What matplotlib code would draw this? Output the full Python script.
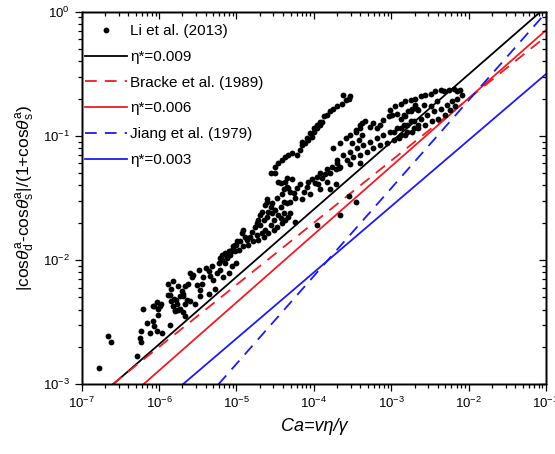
import numpy as np
import matplotlib
matplotlib.use("agg")
import matplotlib.pyplot as plt
from matplotlib.ticker import LogLocator, NullFormatter

plt.rcParams["font.family"] = "Liberation Sans"
plt.rcParams["mathtext.fontset"] = "custom"
plt.rcParams["mathtext.rm"] = "Liberation Sans"
plt.rcParams["mathtext.it"] = "Liberation Sans:italic"
plt.rcParams["mathtext.bf"] = "Liberation Sans:bold"

# Li et al. (2013): measured points, kept as decades (log10 Ca, log10 ratio)
LI_LOG_CA = [
	-6.77, -6.66, -6.62, -6.29, -6.21, -6.08, -5.99, -6.01, -6.15, -6.08,
	-6.06, -6.24, -6.12, -6.03, -6.25, -6.23, -5.96, -5.86, -5.89, -5.84,
	-5.82, -5.80, -5.75, -5.73, -5.69, -5.78, -5.67, -5.67, -6.07, -6.01,
	-5.97, -6.03, -5.88, -5.82, -5.84, -5.86, -5.81, -5.77, -5.73, -5.79,
	-5.69, -5.75, -5.71, -5.69, -5.64, -5.66, -5.62, -5.58, -5.60, -5.56,
	-5.51, -5.47, -5.45, -5.43, -5.49, -5.40, -5.36, -5.32, -5.34, -5.30,
	-5.25, -5.21, -5.23, -5.19, -5.15, -5.12, -5.08, -5.04, -5.02, -4.99,
	-5.06, -5.00, -5.10, -5.17, -5.60, -5.53, -5.47, -5.36, -5.28, -4.50,
	-4.46, -4.43, -4.35, -4.33, -4.61, -4.63, -4.56, -4.59, -4.67, -4.69,
	-4.72, -4.74, -4.76, -4.69, -4.65, -4.61, -4.54, -4.50, -4.43, -4.39,
	-4.35, -4.46, -4.52, -4.56, -4.63, -4.67, -4.74, -4.80, -4.82, -4.87,
	-4.91, -4.93, -4.89, -4.95, -5.00, -5.04, -5.06, -5.10, -5.15, -5.19,
	-5.21, -5.12, -5.08, -5.02, -4.97, -4.91, -4.85, -4.78, -4.72, -4.65,
	-4.59, -4.52, -4.48, -4.41, -4.37, -4.33, -4.39, -4.43, -4.56, -4.50,
	-4.46, -4.41, -4.37, -4.33, -4.28, -4.22, -4.18, -4.15, -4.11, -4.07,
	-4.02, -4.00, -3.96, -3.92, -3.90, -4.61, -4.54, -4.48, -4.41, -4.39,
	-4.35, -4.31, -4.26, -4.22, -4.18, -4.13, -4.09, -4.07, -4.02, -3.98,
	-3.96, -3.92, -3.90, -3.85, -3.83, -3.79, -3.77, -3.72, -3.70, -3.68,
	-4.24, -4.15, -4.05, -4.31, -3.94, -3.83, -4.37, -4.28, -3.92, -3.79,
	-3.71, -4.15, -4.09, -4.05, -4.00, -3.96, -3.92, -3.87, -3.83, -3.79,
	-3.75, -3.70, -3.64, -3.59, -3.53, -3.46, -3.40, -3.38, -3.42, -3.51,
	-3.62, -3.55, -3.75, -3.66, -3.59, -3.53, -3.46, -3.40, -3.38, -3.34,
	-3.27, -3.23, -3.18, -3.14, -3.10, -3.03, -2.99, -2.93, -2.88, -2.82,
	-2.78, -2.73, -2.69, -2.65, -2.75, -2.84, -2.93, -3.01, -3.10, -3.18,
	-3.27, -3.36, -3.44, -3.53, -3.62, -3.70, -3.57, -3.49, -3.40, -3.31,
	-3.23, -3.14, -3.05, -2.97, -2.88, -2.80, -2.71, -2.65, -3.66, -3.53,
	-3.40, -3.01, -2.95, -2.88, -2.82, -2.75, -2.69, -2.62, -2.56, -2.49,
	-2.43, -2.36, -2.32, -2.26, -2.19, -2.15, -2.11, -2.08, -2.15, -2.21,
	-2.28, -2.36, -2.45, -2.54, -2.62, -2.71, -2.80, -2.88, -2.97, -2.90,
	-2.82, -2.73, -2.65, -2.56, -2.47, -2.39, -2.30, -2.24, -2.17, -2.84,
	-2.75, -2.67, -2.58, -2.41, -2.49, -3.55, -3.46, -3.66, -3.96, -4.31,
	-4.24,
]
LI_LOG_RATIO = [
	-2.87, -2.61, -2.66, -2.77, -2.39, -2.37, -2.37, -2.44, -2.51, -2.49,
	-2.53, -2.57, -2.59, -2.57, -2.63, -2.66, -2.59, -2.52, -2.28, -2.33,
	-2.37, -2.41, -2.40, -2.29, -2.27, -2.32, -2.35, -2.45, -2.37, -2.39,
	-2.35, -2.34, -2.19, -2.17, -2.23, -2.28, -2.31, -2.35, -2.39, -2.40,
	-2.42, -2.21, -2.25, -2.29, -2.32, -2.21, -2.19, -2.14, -2.10, -2.12,
	-2.20, -2.24, -2.19, -2.14, -2.08, -2.06, -2.09, -2.05, -2.13, -2.16,
	-2.10, -2.08, -2.02, -2.00, -2.02, -1.97, -1.94, -1.92, -1.88, -1.85,
	-2.05, -2.02, -2.10, -2.14, -2.33, -2.35, -2.29, -2.27, -2.23, -1.30,
	-1.37, -1.38, -1.34, -1.42, -1.51, -1.56, -1.57, -1.61, -1.61, -1.64,
	-1.68, -1.70, -1.73, -1.72, -1.68, -1.65, -1.62, -1.60, -1.57, -1.53,
	-1.54, -1.64, -1.68, -1.72, -1.76, -1.78, -1.80, -1.77, -1.81, -1.84,
	-1.76, -1.78, -1.81, -1.85, -1.88, -1.89, -1.92, -1.93, -1.94, -1.96,
	-1.98, -1.98, -1.96, -1.93, -1.92, -1.89, -1.88, -1.85, -1.84, -1.81,
	-1.78, -1.76, -1.73, -1.70, -1.68, -1.65, -1.62, -1.66, -1.30, -1.25,
	-1.22, -1.19, -1.17, -1.15, -1.14, -1.15, -1.11, -1.07, -1.06, -1.03,
	-1.01, -0.97, -0.94, -0.91, -0.89, -1.53, -1.54, -1.50, -1.47, -1.43,
	-1.41, -1.45, -1.46, -1.42, -1.39, -1.45, -1.41, -1.37, -1.35, -1.38,
	-1.33, -1.30, -1.34, -1.31, -1.27, -1.30, -1.25, -1.27, -1.22, -1.26,
	-1.50, -1.51, -1.47, -1.53, -1.39, -1.37, -1.37, -1.35, -1.43, -1.43,
	-1.39, -1.05, -1.02, -0.98, -0.94, -0.91, -0.89, -0.84, -0.83, -0.80,
	-0.78, -0.76, -0.74, -0.71, -0.68, -0.95, -0.91, -0.99, -1.03, -1.06,
	-0.67, -0.70, -1.10, -1.06, -1.02, -0.99, -0.97, -0.94, -0.90, -0.88,
	-0.93, -0.90, -0.94, -0.91, -0.87, -0.84, -0.83, -0.82, -0.86, -0.84,
	-0.80, -0.78, -0.75, -0.79, -0.88, -0.91, -0.94, -0.97, -0.99, -1.02,
	-1.05, -1.07, -1.10, -1.13, -1.15, -1.19, -1.19, -1.17, -1.15, -1.13,
	-1.10, -1.07, -1.06, -1.03, -0.99, -0.97, -0.94, -0.91, -1.25, -1.23,
	-1.22, -0.79, -0.76, -0.74, -0.72, -0.71, -0.70, -0.68, -0.67, -0.66,
	-0.64, -0.63, -0.64, -0.63, -0.62, -0.64, -0.63, -0.67, -0.70, -0.72,
	-0.75, -0.78, -0.80, -0.83, -0.86, -0.88, -0.91, -0.94, -0.97, -1.02,
	-0.99, -0.97, -0.94, -0.91, -0.88, -0.86, -0.83, -0.79, -0.76, -0.83,
	-0.80, -0.78, -0.75, -0.72, -0.76, -1.48, -1.53, -1.64, -1.72, -1.62,
	-1.69,
]

# straight lines on log-log axes, each given by its two end points
BRACKE_CA = [2.5e-7, 1e-1]
BRACKE_RATIO = [1e-3, 0.632]
JIANG_CA = [5.85e-6, 1e-1]
JIANG_RATIO = [1e-3, 0.985]
ETA_009_CA = [2.55e-7, 8.5e-2]
ETA_009_RATIO = [1e-3, 1.0]
ETA_006_CA = [6.27e-7, 1e-1]
ETA_006_RATIO = [1e-3, 0.71]
ETA_003_CA = [2.03e-6, 1e-1]
ETA_003_RATIO = [1e-3, 0.315]

RED = "#ee1d23"
BLUE = "#1c1ced"
DASH = (0, (6.5, 4.5))

fig = plt.figure(figsize=(5.55, 4.54), dpi=100)
ax = fig.add_axes([0.1472, 0.1535, 0.8366, 0.8207])

ax.plot(10 ** np.array(LI_LOG_CA), 10 ** np.array(LI_LOG_RATIO), "o", color="black",
	ms=4.2, mec="none", label="Li et al. (2013)", zorder=3)
ax.plot(ETA_009_CA, ETA_009_RATIO, color="black", lw=1.3, label="\u03b7*=0.009")
ax.plot(BRACKE_CA, BRACKE_RATIO, color=RED, lw=1.3, ls=DASH, label="Bracke et al. (1989)")
ax.plot(ETA_006_CA, ETA_006_RATIO, color=RED, lw=1.3, label="\u03b7*=0.006")
ax.plot(JIANG_CA, JIANG_RATIO, color=BLUE, lw=1.3, ls=DASH, label="Jiang et al. (1979)")
ax.plot(ETA_003_CA, ETA_003_RATIO, color=BLUE, lw=1.3, label="\u03b7*=0.003")

ax.set_xscale("log")
ax.set_yscale("log")
ax.set_xlim(1e-7, 1e-1)
ax.set_ylim(1e-3, 1e0)

for a in (ax.xaxis, ax.yaxis):
	a.set_major_locator(LogLocator(base=10, numticks=12))
	a.set_minor_locator(LogLocator(base=10, subs=np.arange(2, 10), numticks=12))
	a.set_minor_formatter(NullFormatter())

ax.tick_params(which="both", direction="out", top=False, right=False, labelsize=9.5, width=0.9)
ax.tick_params(which="major", length=5)
ax.tick_params(which="minor", length=3)
for s in ax.spines.values():
	s.set_linewidth(1.0)

# mirrored ticks on top and right, pointing inwards
ax_top = ax.twiny()
ax_top.set_xscale("log")
ax_top.set_xlim(ax.get_xlim())
ax_right = ax.twinx()
ax_right.set_yscale("log")
ax_right.set_ylim(ax.get_ylim())
ax_top.xaxis.set_minor_locator(LogLocator(base=10, subs=np.arange(2, 10), numticks=12))
ax_right.yaxis.set_minor_locator(LogLocator(base=10, subs=np.arange(2, 10), numticks=12))
ax_top.tick_params(axis="x", which="both", direction="in", labeltop=False, width=0.9)
ax_right.tick_params(axis="y", which="both", direction="in", labelright=False, width=0.9)
for t in (ax_top, ax_right):
	t.tick_params(which="major", length=5)
	t.tick_params(which="minor", length=3)
	for s in t.spines.values():
		s.set_linewidth(1.0)

ax.set_xlabel("Ca=v\u03b7/\u03b3", fontsize=13, style="italic", labelpad=5)
ax.set_ylabel(r"|cos$\theta^{\mathrm{a}}_{\mathrm{d}}$-cos$\theta^{\mathrm{a}}_{\mathrm{s}}$|/(1+cos$\theta^{\mathrm{a}}_{\mathrm{s}}$)",
	fontsize=12.5, labelpad=4)

ax.legend(loc="upper left", bbox_to_anchor=(0.0, 0.975), frameon=False, fontsize=11,
	handlelength=2.75, handletextpad=0.2, labelspacing=0.77, borderaxespad=0.1,
	borderpad=0.1, numpoints=1)

fig.savefig("out.png", dpi=100)
